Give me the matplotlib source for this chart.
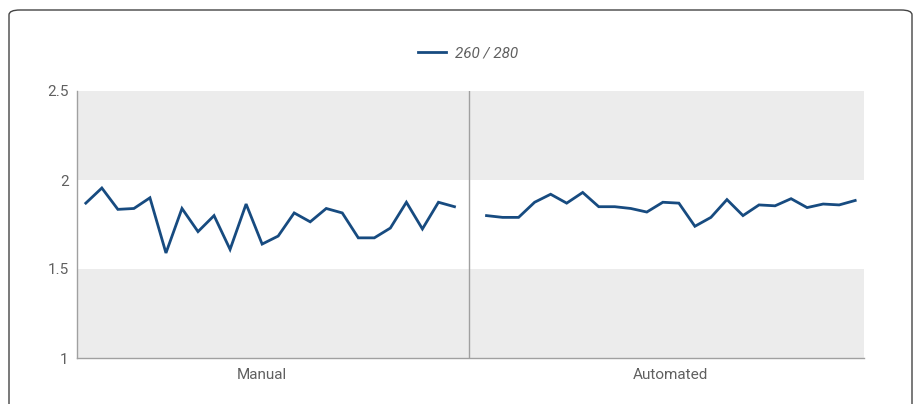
import matplotlib
matplotlib.use("Agg")
import matplotlib.pyplot as plt
import numpy as np
from matplotlib.patches import FancyBboxPatch

groups = ["Manual", "Automated"]
manual = [1.87, 1.955, 1.835, 1.84, 1.90, 1.59, 1.84, 1.71, 1.80, 1.61, 1.865, 1.64,
          1.685, 1.815, 1.765, 1.84, 1.815, 1.675, 1.675, 1.73, 1.875, 1.725, 1.875, 1.85]
automated = [1.80, 1.79, 1.79, 1.875, 1.92, 1.87, 1.93, 1.85, 1.85, 1.84, 1.82, 1.875,
             1.87, 1.74, 1.79, 1.89, 1.80, 1.86, 1.855, 1.895, 1.845, 1.865, 1.86, 1.885]
series_label = "260 / 280"
yticks = [1, 1.5, 2, 2.5]

LINE = "#174b80"
TXT = "#606060"
plt.rcParams["font.family"] = ["Roboto", "DejaVu Sans"]

fig = plt.figure(figsize=(9.17, 4.04), dpi=100)
fig.patches.append(FancyBboxPatch((9 / 917, -0.05), 903 / 917, 1 - 10 / 404 + 0.05,
                                  boxstyle="round,pad=0,rounding_size=0.012",
                                  transform=fig.transFigure, fill=False,
                                  edgecolor="#444444", linewidth=1.0))

ax = fig.add_axes([77 / 917, 1 - 358 / 404, 787 / 917, 267 / 404])

n1, n2 = len(manual), len(automated)
gap = n1
x1 = np.arange(n1)
x2 = np.arange(n2) + n1 + 1
total = n1 + n2 + 1

ax.axhspan(2, 2.5, color="#ececec", lw=0, zorder=0)
ax.axhspan(1, 1.5, color="#ececec", lw=0, zorder=0)
ax.axvline(gap - 0.1, color="#a0a0a0", lw=1.0, zorder=1)

ax.plot(x1, manual, color=LINE, lw=2.0, solid_joinstyle="miter", zorder=3, label=series_label)
ax.plot(x2, automated, color=LINE, lw=2.0, solid_joinstyle="miter", zorder=3)

ax.set_xlim(-0.55, total - 0.45)
ax.set_ylim(1, 2.5)
ax.set_yticks(yticks)
ax.set_yticklabels(["1", "1.5", "2", "2.5"], color=TXT, fontsize=11)
ax.tick_params(axis="y", length=0, pad=6)
ax.set_xticks([(n1 - 1) / 2 - 0.5, n1 + 1 + (n2 - 1) / 2])
ax.set_xticklabels(groups, color=TXT, fontsize=11)
ax.tick_params(axis="x", length=0, pad=7)

for s in ["top", "right"]:
    ax.spines[s].set_visible(False)
ax.spines["left"].set_color("#a0a0a0")
ax.spines["bottom"].set_color("#a0a0a0")
ax.spines["left"].set_linewidth(1.0)
ax.spines["bottom"].set_linewidth(1.0)

leg = fig.legend(loc="center", bbox_to_anchor=(468 / 917, 1 - 53 / 404), frameon=False,
                 handlelength=1.8, handletextpad=0.6, fontsize=11)
for t in leg.get_texts():
    t.set_color(TXT)
    t.set_fontstyle("italic")

fig.savefig("out.png", dpi=100)
